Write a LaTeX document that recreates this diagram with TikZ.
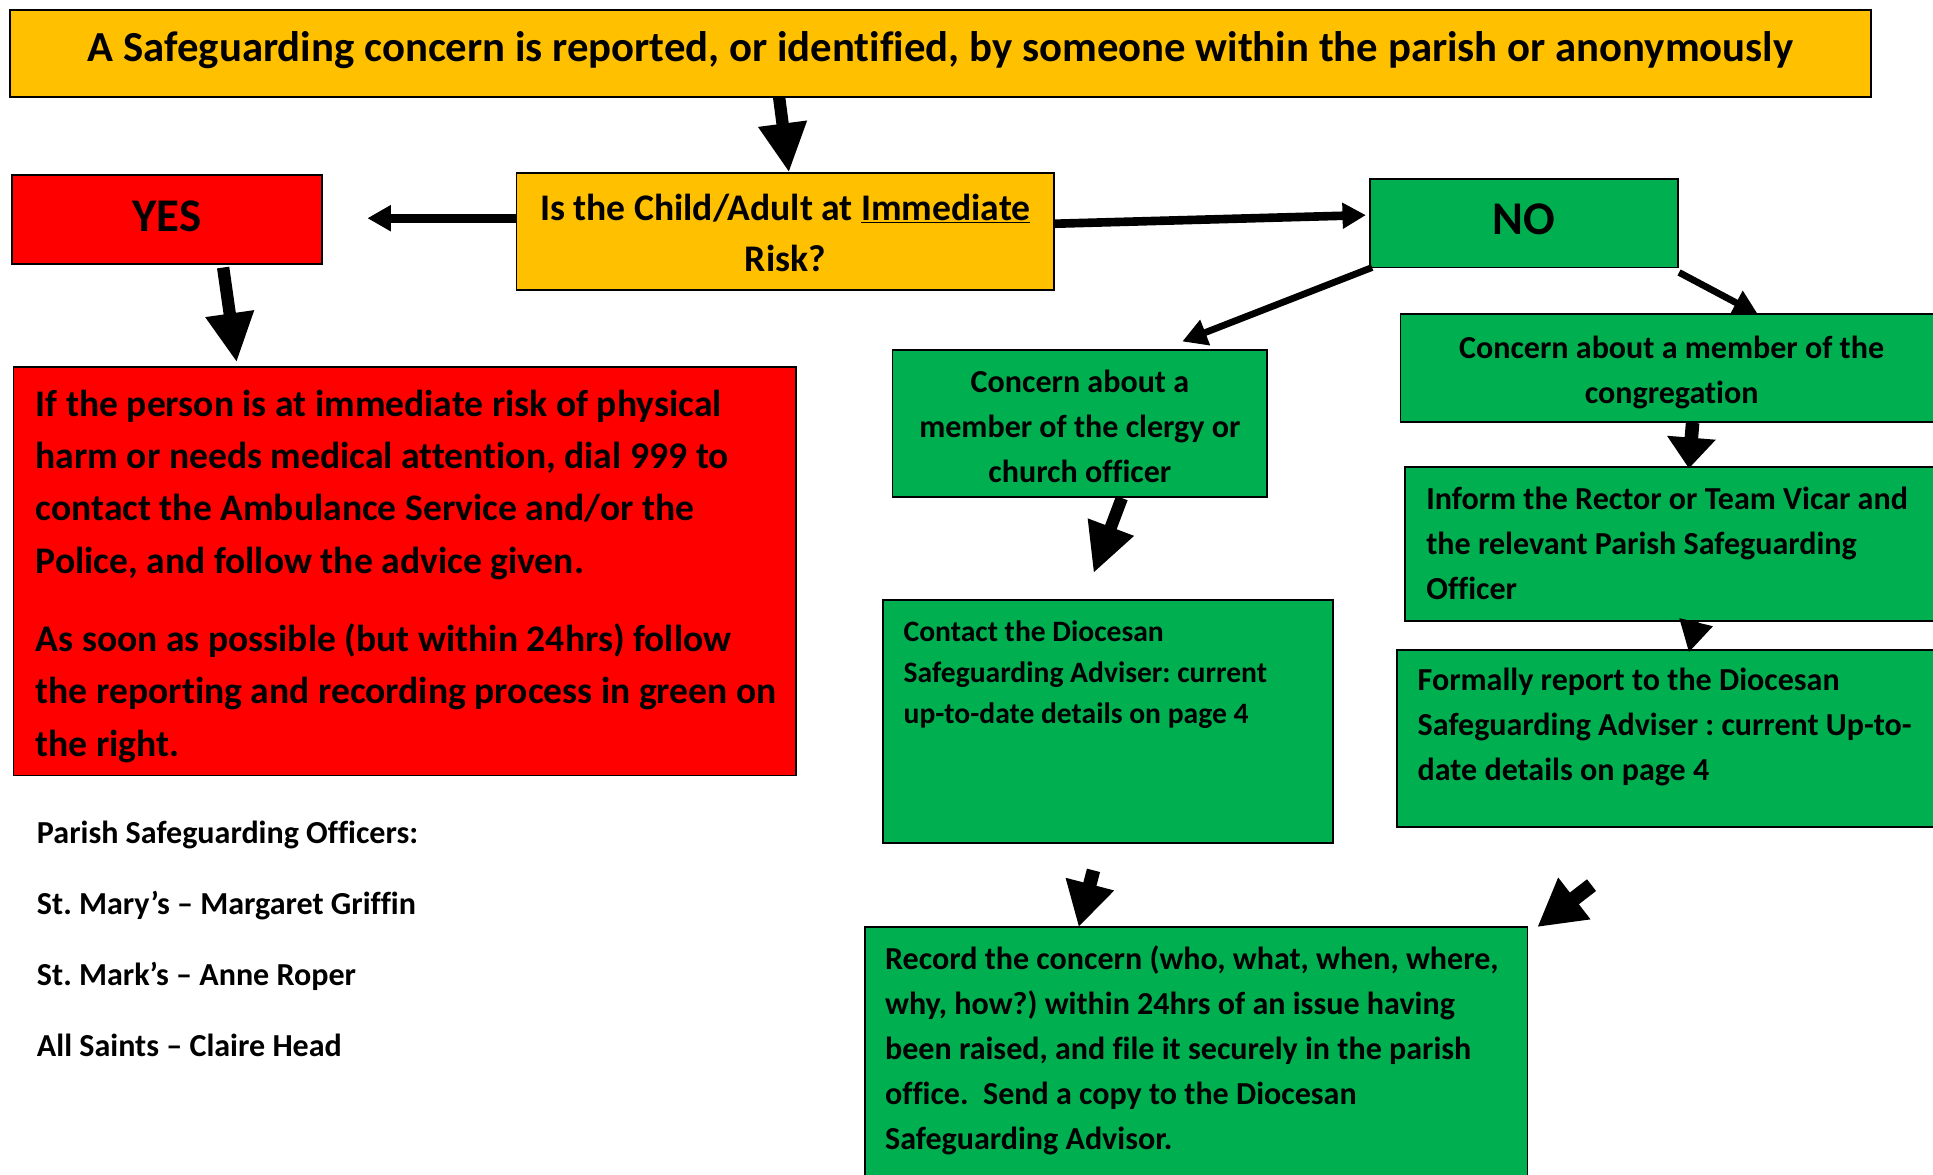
\documentclass[tikz,border=0pt]{standalone}
\usepackage{fontspec}
\setmainfont{Carlito}[Ligatures=NoCommon]
\usetikzlibrary{arrows.meta,calc}
\definecolor{ambr}{HTML}{FFC000}
\definecolor{rd}{HTML}{FF0000}
\definecolor{gr}{HTML}{00B050}
\tikzset{
  box/.style={draw=black, line width=1.5pt, anchor=north west, inner sep=0pt, outer sep=0pt},
  txt/.style={anchor=base west, inner sep=0pt, outer sep=0pt, font=\bfseries},
  ctxt/.style={anchor=base, inner sep=0pt, outer sep=0pt, font=\bfseries},
  bigarrow/.style={line width=10pt, -{Triangle[length=40pt,width=37pt]}},
  shortbig/.style={line width=11pt, -{Triangle[length=25pt,width=38pt]}},
  midarrow/.style={line width=7pt, -{Triangle[length=19pt,width=20pt]}},
  thinarrow/.style={line width=5.5pt, -{Triangle[length=20pt,width=21pt]}},
}
\frenchspacing
\begin{document}
\begin{tikzpicture}[x=1pt,y=-1pt]
\useasboundingbox (0,0) rectangle (1568,953);
\clip (0,0) rectangle (1568,953);
% boxes
\node[box, fill=ambr, minimum width=1510pt, minimum height=71pt] (title) at (8,8) {};
\node[box, fill=ambr, minimum width=436pt, minimum height=95pt] (q) at (419,140) {};
\node[box, fill=rd, minimum width=251pt, minimum height=72pt] (yes) at (10,142) {};
\node[box, fill=gr, minimum width=250pt, minimum height=72pt] (no) at (1111,145) {};
\node[box, fill=rd, minimum width=635pt, minimum height=331pt] (red) at (11,298) {};
\node[box, fill=gr, minimum width=304pt, minimum height=119pt] (clergy) at (724,284) {};
\node[box, fill=gr, minimum width=450pt, minimum height=87pt] (cong) at (1136,255) {};
\node[box, fill=gr, minimum width=450pt, minimum height=125pt] (inform) at (1140,379) {};
\node[box, fill=gr, minimum width=450pt, minimum height=144pt] (formal) at (1133,527) {};
\node[box, fill=gr, minimum width=365pt, minimum height=197pt] (contact) at (716,487) {};
\node[box, fill=gr, minimum width=537pt, minimum height=230pt] (record) at (702,752) {};
% texts
\node[ctxt] (titletext) at (763,50) {\fontsize{34.7}{42}\selectfont A Safeguarding concern is reported, or identified, by someone within the parish or anonymously};
\node[ctxt] (qtext) at (637,178.5) {\parbox[t]{430pt}{\centering\fontsize{30.5}{42}\selectfont Is the Child/Adult at \underline{Immediate}\\Risk?}};
\node[ctxt] (yestext) at (135.5,188) {\fontsize{38}{44}\selectfont YES};
\node[ctxt] (notext) at (1236,190.5) {\fontsize{38}{44}\selectfont NO};
\node[txt] (redtext) at (29,337.5) {\parbox[t]{610pt}{\raggedright\fontsize{30.5}{42.5}\selectfont
If the person is at immediate risk of physical\\
harm or needs medical attention, dial 999 to\\
contact the Ambulance Service and/or the\\
Police, and follow the advice given.\par\vspace{21pt}
As soon as possible (but within 24hrs) follow\\
the reporting and recording process in green on\\
the right.}};
\node[ctxt] (clergytext) at (876,318.5) {\parbox[t]{300pt}{\centering\fontsize{26}{36.5}\selectfont Concern about a\\member of the clergy or\\church officer}};
\node[ctxt] (congtext) at (1356,290.5) {\parbox[t]{430pt}{\centering\fontsize{26}{36.5}\selectfont Concern about a member of the\\congregation}};
\node[txt] (informtext) at (1157,413) {\parbox[t]{420pt}{\raggedright\fontsize{26}{36.5}\selectfont Inform the Rector or Team Vicar and\\the relevant Parish Safeguarding\\Officer}};
\node[txt] (formaltext) at (1150,560.5) {\parbox[t]{420pt}{\raggedright\fontsize{26}{36.5}\selectfont Formally report to the Diocesan\\Safeguarding Adviser : current Up-to-\\date details on page 4}};
\node[txt] (contacttext) at (733,520) {\parbox[t]{340pt}{\raggedright\fontsize{24}{33.5}\selectfont Contact the Diocesan\\Safeguarding Adviser: current\\up-to-date details on page 4}};
\node[txt] (recordtext) at (718,786.5) {\parbox[t]{520pt}{\raggedright\fontsize{26}{36.5}\selectfont Record the concern (who, what, when, where,\\why, how?) within 24hrs of an issue having\\been raised, and file it securely in the parish\\office.\ \ Send a copy to the Diocesan\\Safeguarding Advisor.}};
\node[txt] (parishtext) at (30,684.5) {\parbox[t]{500pt}{\raggedright\fontsize{26}{57.5}\selectfont Parish Safeguarding Officers:\\St. Mary’s – Margaret Griffin\\St. Mark’s – Anne Roper\\All Saints – Claire Head}};
% arrows
\draw[bigarrow] ($(title.south west)+(624,0)$) -- ($(q.north west)+(221,0)$);
\draw[midarrow] ($(q.west)+(0,-10.5)$) -- ($(yes.east)+(37,-1)$);
\draw[midarrow] ($(q.east)+(0,-6)$) -- ($(no.west)+(-3,-6.5)$);
\draw[bigarrow] ($(yes.south west)+(171,3)$) -- ($(red.north west)+(181,-4)$);
\draw[thinarrow] ($(no.south west)+(2,0)$) -- ($(clergy.north west)+(235,-7)$);
\draw[thinarrow] ($(no.south east)+(1,4)$) -- ($(cong.north west)+(290,0)$);
\draw[bigarrow] ($(clergy.south west)+(186,1)$) -- ($(contact.north west)+(171,-22)$);
\draw[shortbig] ($(cong.south west)+(237,1)$) -- ($(inform.north west)+(230,1)$);
\draw[line width=4pt, -{Triangle[length=25pt,width=27pt]}] ($(inform.south west)+(236,0)$) -- ($(formal.north west)+(237,2)$);
\draw[line width=11pt, -{Triangle[length=36pt,width=38pt]}] ($(contact.south west)+(171,22)$) -- ($(record.north west)+(173,0)$);
\draw[line width=12pt, -{Triangle[length=38pt,width=40pt]}] ($(formal.south west)+(158,47)$) -- ($(record.north east)+(8,0)$);
\end{tikzpicture}
\end{document}
